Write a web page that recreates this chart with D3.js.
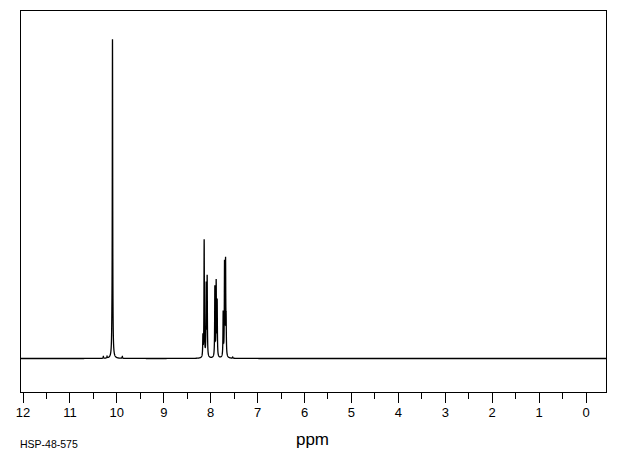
<!DOCTYPE html>
<html>
<head>
<meta charset="utf-8">
<script src="https://cdn.jsdelivr.net/npm/d3@7"></script>
<style>
  html, body { margin: 0; padding: 0; background: #fff; }
  svg { display: block; }
  text { font-family: "Liberation Sans", Arial, sans-serif; fill: #000; }
</style>
</head>
<body>
<script>
// ---- data (chemical shift ppm, relative intensity) ----
const peakPpm = [10.277, 10.198, 10.095, 10.082, 9.872,
                 8.155, 8.128, 8.085, 8.064,
                 7.900, 7.872, 7.851,
                 7.723, 7.694, 7.672, 7.660, 7.520];
const peakHeight = [0.6, 0.6, 3.0, 100, 0.6,
                    6.3, 36.8, 22.3, 24.8,
                    22.0, 23.3, 17.3,
                    13.8, 29.0, 29.0, 9.4, 0.4];
const majorTicks = [12, 11, 10, 9, 8, 7, 6, 5, 4, 3, 2, 1, 0];
const minorTicks = [11.5, 10.5, 9.5, 8.5, 7.5, 6.5, 5.5, 4.5, 3.5, 2.5, 1.5, 0.5];
const xLabel = "ppm";
const sampleId = "HSP-48-575";

const W = 620, H = 455;
const frame = {left: 20.5, top: 10.5, right: 606.5, bottom: 392.5};

const svg = d3.select("body").append("svg").attr("width", W).attr("height", H);

const x = d3.scaleLinear().domain([12, 0]).range([22.5, 585.5]);
const y = d3.scaleLinear().domain([0, 100]).range([358.5, 40.5]);

// frame
svg.append("rect")
  .attr("x", frame.left).attr("y", frame.top)
  .attr("width", frame.right - frame.left).attr("height", frame.bottom - frame.top)
  .attr("fill", "none").attr("stroke", "#000").attr("stroke-width", 1)
  .attr("shape-rendering", "crispEdges");

// spectrum: Lorentzian lines at the listed shifts
const gamma = 0.005;
const ppmStart = x.invert(frame.left), ppmEnd = x.invert(frame.right);
const step = 0.001;
const intensity = p => {
  let v = 0;
  for (let k = 0; k < peakPpm.length; k++) {
    const d = p - peakPpm[k];
    v += peakHeight[k] * gamma * gamma / (d * d + gamma * gamma);
  }
  return v;
};
const pts = [];
const n = Math.round((ppmStart - ppmEnd) / step);
for (let i = 0; i <= n; i++) {
  const p = ppmStart - i * step;
  pts.push([p, intensity(p)]);
}
peakPpm.forEach(pk => pts.push([pk, intensity(pk)]));
pts.sort((a, b) => b[0] - a[0]);

svg.append("path")
  .datum(pts)
  .attr("fill", "none").attr("stroke", "#000").attr("stroke-width", 1.3)
  .attr("stroke-linejoin", "miter")
  .attr("d", d3.line().x(d => x(d[0])).y(d => y(d[1])));

// axis
const axis = d3.axisBottom(x).tickValues(majorTicks).tickSize(10).tickPadding(5)
  .tickFormat(d3.format("d"));
const gAxis = svg.append("g").attr("transform", `translate(0,${frame.bottom})`).call(axis);
gAxis.select(".domain").remove();
gAxis.selectAll(".tick line").attr("stroke", "#000").attr("shape-rendering", "crispEdges");
gAxis.selectAll(".tick text").attr("font-size", 13)
  .attr("font-family", "'Liberation Sans', Arial, sans-serif").attr("fill", "#000")
  .attr("dy", "0.71em");

const minor = d3.axisBottom(x).tickValues(minorTicks).tickSize(6).tickFormat("");
const gMinor = svg.append("g").attr("transform", `translate(0,${frame.bottom})`).call(minor);
gMinor.select(".domain").remove();
gMinor.selectAll(".tick line").attr("stroke", "#000").attr("shape-rendering", "crispEdges");

svg.append("text").attr("x", 312.5).attr("y", 445).attr("text-anchor", "middle")
  .attr("font-size", 17).text(xLabel);
svg.append("text").attr("x", 20).attr("y", 448).attr("font-size", 10.5).text(sampleId);
</script>
</body>
</html>
